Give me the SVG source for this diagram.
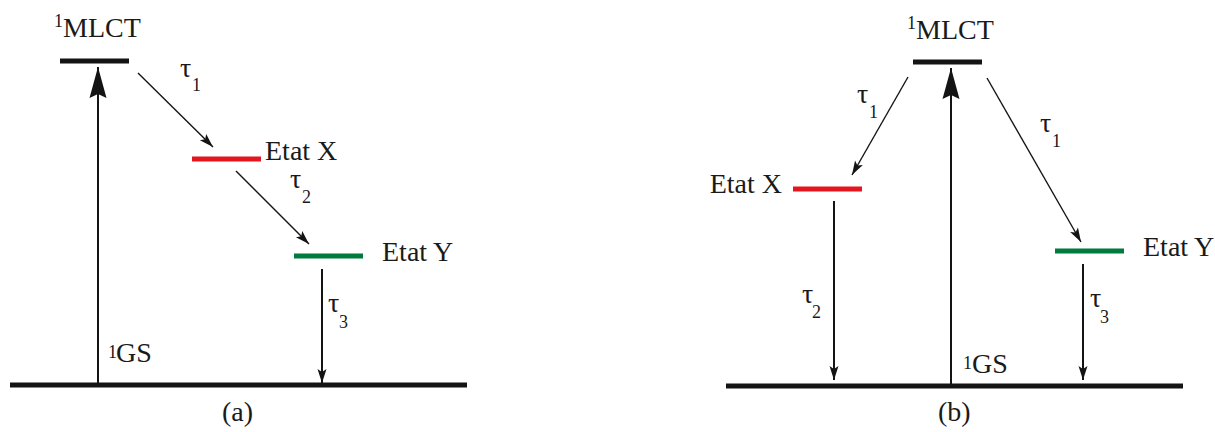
<svg xmlns="http://www.w3.org/2000/svg" width="1215" height="432" viewBox="0 0 1215 432">
<style>
text{font-family:"Liberation Serif","Times New Roman",serif;fill:#1a1a1a}
.lbl{font-size:28px}
.sub{font-size:18px}
.lvl{stroke-width:5;fill:none}
.blk{stroke:#141414}
.red{stroke:#e3151f}
.grn{stroke:#007a3d}
.big{stroke:#141414;stroke-width:2;fill:none;marker-end:url(#bigHead)}
.thin{stroke:#141414;stroke-width:1.4;fill:none;marker-end:url(#smallHead)}
.vert{stroke:#141414;stroke-width:2;fill:none;marker-end:url(#smallHead)}
</style>
<defs>
<marker id="bigHead" markerUnits="userSpaceOnUse" viewBox="-32 -10 34 20" refX="0" refY="0" markerWidth="34" markerHeight="20" orient="auto">
<path d="M0,0 L-31,-8.5 L-27,0 L-31,8.5 Z" fill="#141414"/>
</marker>
<marker id="smallHead" markerUnits="userSpaceOnUse" viewBox="-16 -6 18 12" refX="0" refY="0" markerWidth="18" markerHeight="12" orient="auto">
<path d="M0,0 L-14,-4.5 L-11,0 L-14,4.5 Z" fill="#141414"/>
</marker>
</defs>

<!-- Panel (a) -->
<g id="a-ground"><line class="lvl blk" x1="10" y1="385" x2="467" y2="385"/>
<text class="sub" x="108" y="358">1</text><text class="lbl" x="116" y="362">GS</text></g>
<g id="a-mlct"><line class="lvl blk" x1="60" y1="61" x2="129" y2="61"/>
<text class="sub" x="54" y="27">1</text><text class="lbl" x="63" y="37">MLCT</text></g>
<g id="a-etatx"><line class="lvl red" x1="192" y1="159" x2="261" y2="159"/>
<text class="lbl" x="265" y="160">Etat X</text></g>
<g id="a-etaty"><line class="lvl grn" x1="294" y1="256" x2="363" y2="256"/>
<text class="lbl" x="382" y="261">Etat Y</text></g>
<text class="lbl" x="222" y="421">(a)</text>

<!-- Panel (b) -->
<g id="b-ground"><line class="lvl blk" x1="726" y1="386" x2="1183" y2="386"/>
<text class="sub" x="963" y="369">1</text><text class="lbl" x="972" y="373">GS</text></g>
<g id="b-mlct"><line class="lvl blk" x1="913" y1="62" x2="982" y2="62"/>
<text class="sub" x="907" y="29">1</text><text class="lbl" x="916" y="39">MLCT</text></g>
<g id="b-etatx"><line class="lvl red" x1="793" y1="189" x2="862" y2="189"/>
<text class="lbl" x="782" y="193" text-anchor="end">Etat X</text></g>
<g id="b-etaty"><line class="lvl grn" x1="1055" y1="251" x2="1124" y2="251"/>
<text class="lbl" x="1143" y="256">Etat Y</text></g>
<text class="lbl" x="938" y="421">(b)</text>

<g id="connectors">
<!-- (a) -->
<line class="big" x1="98" y1="383" x2="98" y2="67"/>
<line class="thin" x1="138" y1="73" x2="213" y2="147"/>
<line class="thin" x1="236" y1="171" x2="309" y2="244"/>
<line class="vert" x1="322" y1="269" x2="322" y2="383"/>
<!-- (b) -->
<line class="big" x1="951" y1="384" x2="951" y2="68"/>
<line class="thin" x1="908" y1="77" x2="852" y2="175"/>
<line class="thin" x1="987" y1="78" x2="1081" y2="242"/>
<line class="vert" x1="834" y1="201" x2="834" y2="380"/>
<line class="vert" x1="1083" y1="264" x2="1083" y2="380"/>
</g>

<g id="labels">
<text class="lbl" x="180" y="77">τ</text><text class="sub" x="192" y="91">1</text>
<text class="lbl" x="290" y="188">τ</text><text class="sub" x="302" y="203">2</text>
<text class="lbl" x="328" y="312">τ</text><text class="sub" x="339" y="328">3</text>
<text class="lbl" x="857" y="103">τ</text><text class="sub" x="869" y="118">1</text>
<text class="lbl" x="1040" y="132">τ</text><text class="sub" x="1052" y="147">1</text>
<text class="lbl" x="802" y="303">τ</text><text class="sub" x="812" y="318">2</text>
<text class="lbl" x="1090" y="307">τ</text><text class="sub" x="1100" y="323">3</text>
</g>
</svg>
